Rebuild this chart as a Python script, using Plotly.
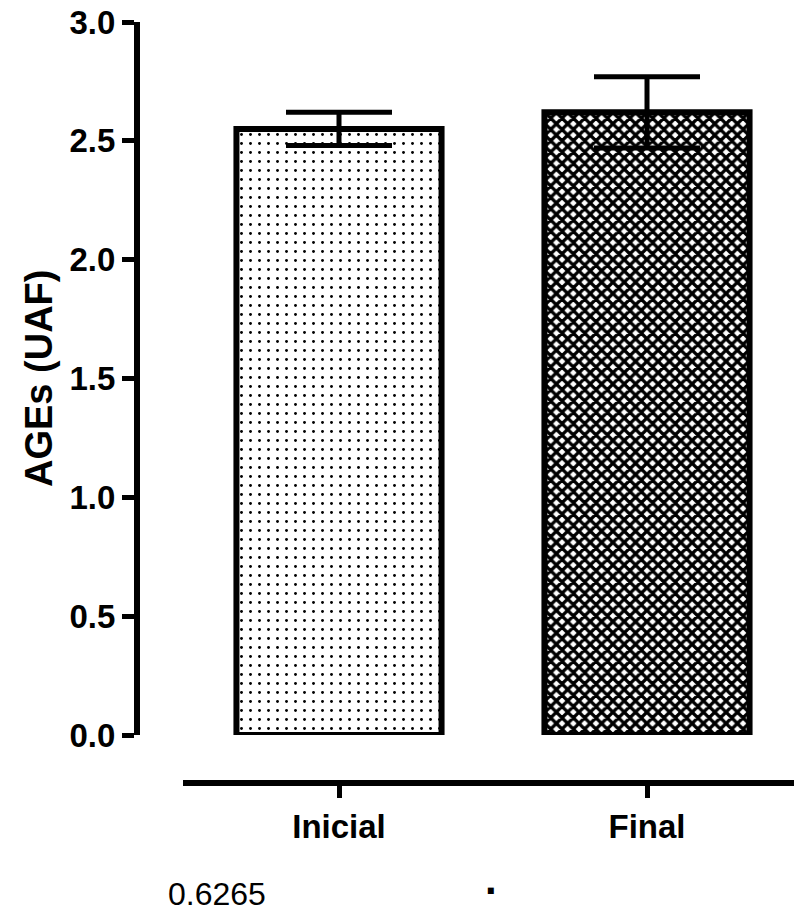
import plotly.graph_objects as go

categories = ["Inicial", "Final"]
means = [2.55, 2.62]
errors = [0.07, 0.15]
y_ticks = [0.0, 0.5, 1.0, 1.5, 2.0, 2.5, 3.0]
y_tick_labels = ["0.0", "0.5", "1.0", "1.5", "2.0", "2.5", "3.0"]
y_title = "AGEs (UAF)"
footnote = "0.6265"

W, H = 794, 913
ML, MR, MT, MB = 137, 0, 22, 130
pw = W - ML - MR
ph = H - MT - MB

FONT = "Liberation Sans, Arial, sans-serif"

fig = go.Figure()
fig.add_trace(go.Bar(
    x=[0, 1], y=means, width=0.666,
    marker=dict(
        color="white",
        line=dict(color="black", width=6),
        pattern=dict(shape=[".", "x"], size=[9, 8], solidity=[0.08, 0.65],
                     fgcolor="black", bgcolor="white", fillmode="replace"),
    ),
    error_y=dict(type="data", array=errors, visible=True, color="black",
                 thickness=5, width=53),
    showlegend=False,
))

x0 = -(339 - 183) / 308
x1 = x0 + (W - 183) / 308

fig.update_layout(
    width=W, height=H,
    margin=dict(l=ML, r=MR, t=MT, b=MB, pad=0),
    paper_bgcolor="white", plot_bgcolor="white",
    font=dict(family=FONT, color="black"),
    xaxis=dict(
        domain=[(183 - ML) / pw, 1], range=[x0, x1],
        anchor="free", position=0,
        tickmode="array", tickvals=[0, 1], ticktext=categories,
        showline=True, linecolor="black", linewidth=6,
        ticks="outside", ticklen=12, tickwidth=5, tickcolor="black",
        tickfont=dict(family=FONT, size=33, color="black", weight="bold"),
        showgrid=False, zeroline=False,
    ),
    yaxis=dict(
        domain=[(783 - 735) / ph, 1], range=[0, 3],
        anchor="free", position=0,
        tickmode="array", tickvals=y_ticks, ticktext=y_tick_labels,
        showline=True, linecolor="black", linewidth=6,
        ticks="outside", ticklen=12, tickwidth=5, tickcolor="black",
        tickfont=dict(family=FONT, size=33, color="black", weight="bold"),
        showgrid=False, zeroline=False,
    ),
    annotations=[
        dict(text=y_title, textangle=-90, xref="paper", yref="paper",
             x=(39 - ML) / pw, y=(783 - 379) / ph, showarrow=False,
             xanchor="center", yanchor="middle",
             font=dict(family=FONT, size=38, color="black", weight="bold")),
        dict(text=footnote, xref="paper", yref="paper",
             x=(217 - ML) / pw, y=(783 - 894) / ph, showarrow=False,
             xanchor="center", yanchor="middle",
             font=dict(family=FONT, size=32, color="black")),
        dict(text=".", xref="paper", yref="paper",
             x=(491 - ML) / pw, y=(783 - 879) / ph, showarrow=False,
             xanchor="center", yanchor="middle",
             font=dict(family=FONT, size=42, color="black", weight="bold")),
    ],
)

fig.write_html("out.html")
